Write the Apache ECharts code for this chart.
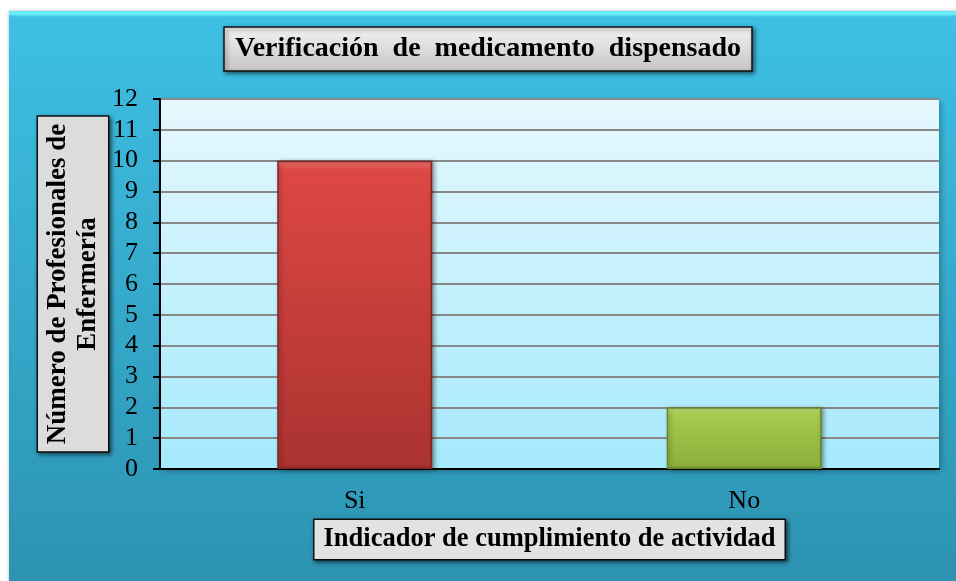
<!DOCTYPE html>
<html>
<head>
<meta charset="utf-8">
<script src="https://cdn.jsdelivr.net/npm/echarts@6/dist/echarts.min.js"></script>
<style>html,body{margin:0;padding:0;background:#fff;}#c{width:956px;height:581px;}</style>
</head>
<body>
<div id="c"></div>
<script>
const categories = ['Si', 'No'];
const values = [10, 2];
const yTicks = [0, 1, 2, 3, 4, 5, 6, 7, 8, 9, 10, 11, 12];
const titleText = 'Verificación  de  medicamento  dispensado';
const yName = 'Número de Profesionales de\nEnfermería';
const xName = 'Indicador de cumplimiento de actividad';

const serif = '"Liberation Serif", "Times New Roman", serif';
const boxGrad = (horiz) => new echarts.graphic.LinearGradient(0, 0, horiz ? 1 : 0, horiz ? 0 : 1, [
  { offset: 0, color: '#f4f4f4' }, { offset: 1, color: '#c4c4c4' }
]);
const barColors = [
  { hi: '#f47672', top: '#dd4744', bottom: '#aa3330', border: '#7e2523' },
  { hi: '#c4e878', top: '#a5ca4c', bottom: '#8cae3c', border: '#66832a' }
];

const chart = echarts.init(document.getElementById('c'));
chart.setOption({
  animation: false,
  backgroundColor: '#ffffff',
  graphic: [{
    type: 'rect', z: -10, silent: true,
    shape: { x: 9, y: 11, width: 960, height: 580 },
    style: {
      fill: new echarts.graphic.LinearGradient(0, 0, 0, 1, [
        { offset: 0, color: '#3ec0e5' }, { offset: 1, color: '#2c92b0' }
      ]),
      shadowBlur: 4, shadowColor: 'rgba(0,0,0,0.25)'
    }
  }, {
    type: 'rect', z: -9, silent: true,
    shape: { x: 9, y: 11, width: 960, height: 6 },
    style: {
      fill: new echarts.graphic.LinearGradient(0, 0, 0, 1, [
        { offset: 0, color: '#62dcf0' }, { offset: 0.4, color: '#72f4fc' }, { offset: 1, color: '#3ec0e5' }
      ])
    }
  }],
  title: {
    text: titleText,
    left: 224, top: 27,
    padding: [8, 11, 8, 11],
    backgroundColor: boxGrad(false),
    borderColor: '#111', borderWidth: 1.5,
    shadowBlur: 4, shadowOffsetX: 2, shadowOffsetY: 2, shadowColor: 'rgba(0,0,0,0.5)',
    textStyle: { fontFamily: serif, fontWeight: 'bold', fontSize: 28, color: '#000' }
  },
  grid: {
    left: 160, right: 17, top: 99, bottom: 112,
    show: true, borderWidth: 0,
    backgroundColor: new echarts.graphic.LinearGradient(0, 0, 0, 1, [
      { offset: 0, color: '#e6f8fe' }, { offset: 1, color: '#a5e9fc' }
    ]),
    shadowBlur: 6, shadowOffsetX: 2, shadowOffsetY: 2, shadowColor: 'rgba(0,0,0,0.3)'
  },
  xAxis: {
    type: 'category', data: categories,
    axisLine: { lineStyle: { color: '#000', width: 2 } },
    axisTick: { show: false },
    axisLabel: { fontFamily: serif, fontSize: 26, color: '#000', margin: 19 },
    name: xName, nameLocation: 'middle', nameGap: 51, nameMoveOverlap: false,
    nameTextStyle: {
      fontFamily: serif, fontWeight: 'bold', fontSize: 26.5, color: '#000',
      backgroundColor: '#e2e2e2', borderColor: '#111', borderWidth: 1.5,
      padding: [6, 9, 6, 9],
      shadowBlur: 4, shadowOffsetX: 2, shadowOffsetY: 2, shadowColor: 'rgba(0,0,0,0.5)'
    }
  },
  yAxis: {
    type: 'value', min: 0, max: 12, interval: 1,
    axisLine: { show: true, lineStyle: { color: '#000', width: 2 } },
    axisTick: { show: true, length: 7, lineStyle: { color: '#000', width: 2 } },
    axisLabel: {
      fontFamily: serif, fontSize: 26, color: '#000', margin: 22,
      formatter: (v) => (yTicks.includes(v) ? String(v) : '')
    },
    splitLine: { lineStyle: { color: '#888', width: 2 } },
    name: yName, nameLocation: 'middle', nameGap: 52, nameRotate: 90, nameMoveOverlap: false,
    nameTextStyle: {
      fontFamily: serif, fontWeight: 'bold', fontSize: 27, color: '#000', lineHeight: 30,
      align: 'center',
      backgroundColor: '#dcdcdc', borderColor: '#111', borderWidth: 1.5,
      padding: [5, 7, 5, 7],
      shadowBlur: 4, shadowOffsetX: 2, shadowOffsetY: 2, shadowColor: 'rgba(0,0,0,0.5)'
    }
  },
  series: [{
    type: 'bar', barWidth: 155,
    data: values.map((v, i) => ({
      value: v,
      itemStyle: {
        color: new echarts.graphic.LinearGradient(0, 0, 0, 1, [
          { offset: 0, color: barColors[i].hi },
          { offset: i === 0 ? 0.03 : 0.12, color: barColors[i].top },
          { offset: 1, color: barColors[i].bottom }
        ]),
        borderColor: barColors[i].border, borderWidth: 1.5,
        shadowBlur: 4, shadowOffsetX: 2, shadowOffsetY: 1, shadowColor: 'rgba(0,0,0,0.35)'
      }
    }))
  }]
});
</script>
</body>
</html>
